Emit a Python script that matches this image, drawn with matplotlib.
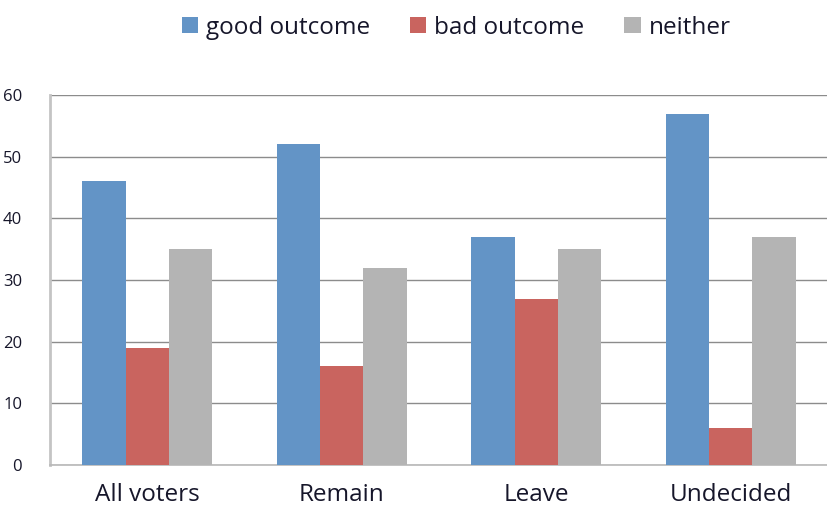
import matplotlib.pyplot as plt
import numpy as np

categories = ["All voters", "Remain", "Leave", "Undecided"]
series_names = ["good outcome", "bad outcome", "neither"]
good = [46, 52, 37, 57]
bad = [19, 16, 27, 6]
neither = [35, 32, 35, 37]
y_ticks = [0, 10, 20, 30, 40, 50, 60]

colors = ["#6394C6", "#C9645F", "#B4B4B4"]
font = ["Open Sans", "DejaVu Sans"]
text_color = "#16162a"

fig = plt.figure(figsize=(8.28, 5.16), dpi=100)
ax = fig.add_axes([50 / 828, 51 / 516, 778 / 828, 370 / 516])

x = np.arange(len(categories))
width = 1 / 4.5  # 150% gap between groups
for i, (vals, name, c) in enumerate(zip([good, bad, neither], series_names, colors)):
    ax.bar(x + (i - 1) * width, vals, width, color=c, label=name, zorder=3)

ax.set_xlim(-0.5, len(categories) - 0.5)
ax.set_ylim(0, 60)
ax.set_yticks(y_ticks)
ax.yaxis.grid(True, color="#8c8c8c", linewidth=1.0, zorder=0)
ax.set_axisbelow(True)
for s in ["top", "right"]:
    ax.spines[s].set_visible(False)
ax.spines["left"].set_color("#c4c4c4")
ax.spines["left"].set_linewidth(2)
ax.spines["bottom"].set_color("#b8b8b8")
ax.spines["bottom"].set_linewidth(1.2)
ax.tick_params(axis="both", length=0)
ax.tick_params(axis="y", pad=20, labelsize=12, labelcolor=text_color)
ax.tick_params(axis="x", pad=13, labelsize=17.5, labelcolor=text_color)
ax.set_xticks(x)
ax.set_xticklabels(categories)
for lab in ax.get_xticklabels():
    lab.set_family(font)
for lab in ax.get_yticklabels():
    lab.set_family(font)
    lab.set_verticalalignment("center_baseline")

leg = fig.legend(loc="upper center", bbox_to_anchor=(0.551, 1.012), ncol=3,
                 frameon=False, prop={"family": font, "size": 17.5},
                 handlelength=0.66, handleheight=0.66, handletextpad=0.33,
                 columnspacing=1.65)
for t in leg.get_texts():
    t.set_color(text_color)

fig.savefig("out.png", dpi=100)
